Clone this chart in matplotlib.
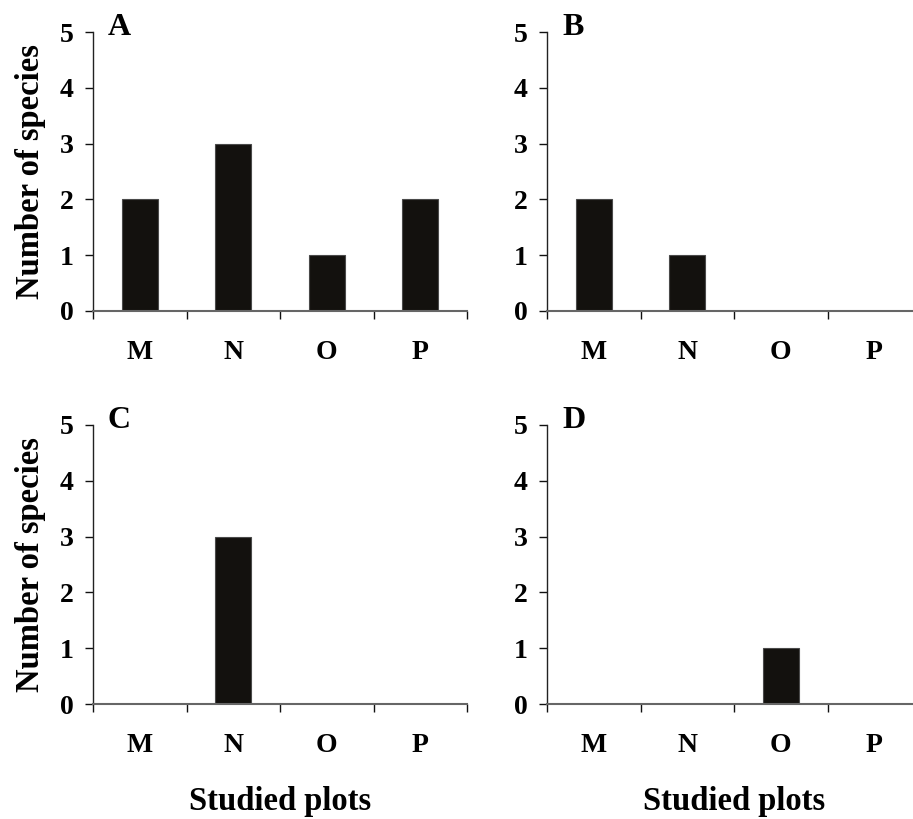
import matplotlib
matplotlib.use("Agg")
import matplotlib.pyplot as plt
import numpy as np

plt.rcParams["font.family"] = ["Liberation Serif", "DejaVu Serif"]
plt.rcParams["font.weight"] = "bold"

plots = ["M", "N", "O", "P"]
panel_letters = ["A", "B", "C", "D"]
counts_a = [2, 3, 1, 2]
counts_b = [2, 1, 0, 0]
counts_c = [0, 3, 0, 0]
counts_d = [0, 0, 1, 0]

W, H = 913, 819
fig = plt.figure(figsize=(W / 100, H / 100), dpi=100)

# axes boxes in pixels: (left x, y of value 5, y of value 0)
AX_W = 374
boxes = [(93, 32, 311), (547, 32, 311), (93, 425, 704), (547, 425, 704)]
series = [counts_a, counts_b, counts_c, counts_d]

BAR_COLOR = "#13110e"

for i, ((x0, ytop, ybot), vals, letter) in enumerate(zip(boxes, series, panel_letters)):
    ax = fig.add_axes([x0 / W, (H - ybot) / H, AX_W / W, (ybot - ytop) / H])
    pos = np.arange(len(plots)) + 0.5
    ax.bar(pos, vals, width=0.385, color=BAR_COLOR, edgecolor="#4a4a4a",
           linewidth=0.8, zorder=2)
    ax.set_xlim(0, len(plots))
    ax.set_ylim(0, 5)

    for s in ("top", "right"):
        ax.spines[s].set_visible(False)
    ax.spines["left"].set_color("#222222")
    ax.spines["left"].set_linewidth(1.0)
    ax.spines["bottom"].set_color("#666666")
    ax.spines["bottom"].set_linewidth(1.5)
    ax.spines["bottom"].set_zorder(3)

    ax.set_yticks(range(6))
    ax.tick_params(axis="y", direction="out", length=6, width=1.0,
                   color="#111111", pad=8, labelsize=20)

    # category boundaries carry the ticks, names sit at the centres
    ax.set_xticks(range(len(plots) + 1))
    ax.set_xticklabels([])
    ax.set_xticks(pos, minor=True)
    ax.set_xticklabels(plots, minor=True)
    ax.tick_params(axis="x", which="major", direction="out", length=6,
                   width=1.0, color="#111111")
    ax.tick_params(axis="x", which="minor", length=0, pad=21, labelsize=20)

    for lab in ax.get_xticklabels(minor=True) + ax.get_yticklabels():
        lab.set_fontweight("bold")

    ax.text(0.04, 0.99, letter, transform=ax.transAxes, fontsize=23,
            fontweight="bold", va="baseline", ha="left")

    if i % 2 == 0:
        fig.text(31 / W, (H - (ytop + ybot) / 2) / H, "Number of species",
                 rotation=90, ha="center", va="center", fontsize=23.5,
                 fontweight="bold")
    if i >= 2:
        fig.text((x0 + AX_W / 2) / W, (H - 810) / H, "Studied plots",
                 ha="center", va="baseline", fontsize=23.5, fontweight="bold")

fig.savefig("out.png", dpi=100, facecolor="white")
